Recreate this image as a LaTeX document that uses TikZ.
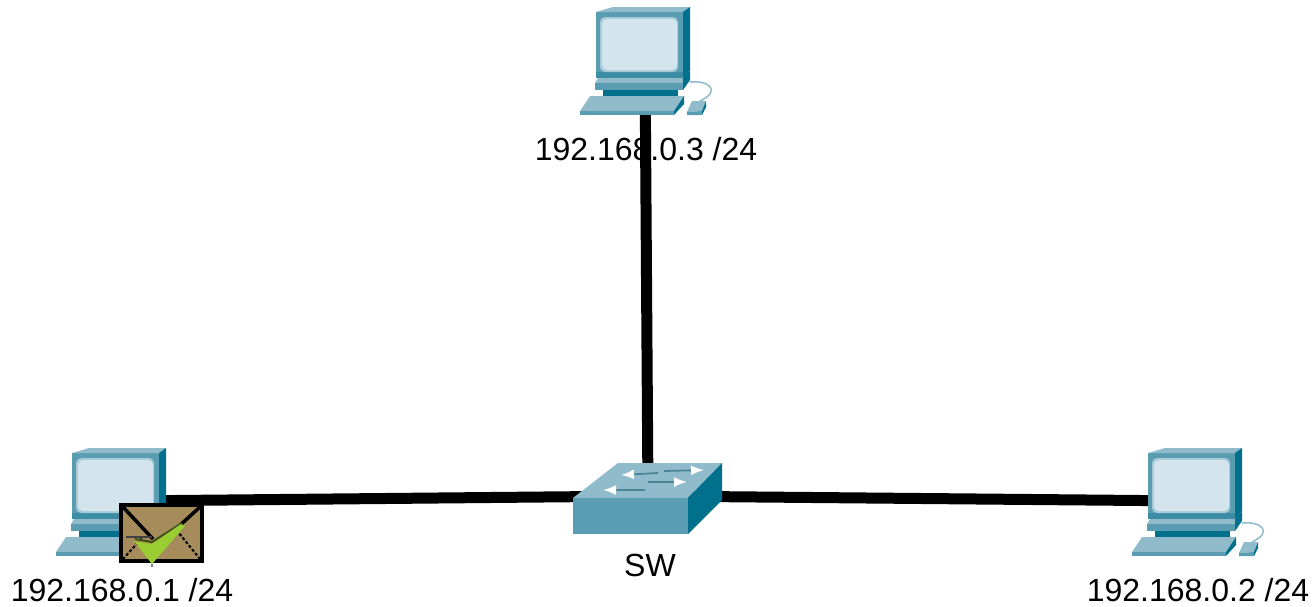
\documentclass[tikz,border=0pt]{standalone}
\usepackage{fontspec}
\setmainfont{Liberation Sans}
\usetikzlibrary{positioning, arrows.meta}
\definecolor{tealdark}{HTML}{00708C}
\definecolor{tealband}{HTML}{3D8CA6}
\definecolor{tealmid}{HTML}{5A9DB3}
\definecolor{teallight}{HTML}{8FBBCB}
\definecolor{bezelblue}{HTML}{A8CBD8}
\definecolor{screenblue}{HTML}{D3E4EC}
\definecolor{mailbrown}{HTML}{A68B5B}
\definecolor{tickgreen}{HTML}{9ACD32}
\tikzset{
    iplabel/.style = {inner sep = 0pt, font = \fontsize{32}{36}\selectfont},
    link/.style = {line width = 11pt, black},
    swarrow/.style = {-{Latex[length=13pt,width=10pt,color=white]}, tealmid!85!black, line width = 1.8pt},
    mail/.style = {draw = black, line width = 4.5pt, fill = mailbrown, minimum width = 81pt, minimum height = 56pt, inner sep = 0pt},
    pcicon/.pic = {
        % Monitor
        \fill[tealmid] (-49,-48) rectangle (38,18);
        \fill[tealband] (-49,12) rectangle (38,18);
        \fill[teallight] (-49,-48) -- (-32,-53) -- (45,-53) -- (38,-48) -- cycle;
        \fill[tealdark] (38,-48) -- (45,-53) -- (45,10) -- (38,18) -- cycle;
        \fill[bezelblue, rounded corners=5pt] (-45,-43) rectangle (33,12);
        \fill[screenblue, rounded corners=5pt] (-43,-41) rectangle (32,10);
        % Stand
        \fill[teallight] (-47,18) -- (38,18) -- (38,23) -- (-50,23) -- cycle;
        \fill[tealmid] (-50,23) rectangle (38,30);
        \fill[tealdark] (38,18) -- (45,10) -- (45,20) -- (38,30) -- cycle;
        \fill[tealdark] (-42,30) rectangle (33,36);
        % Keyboard
        \fill[teallight] (-55,36) -- (39,36) -- (29,51) -- (-65,51) -- cycle;
        \fill[tealmid] (-65,51) rectangle (29,55);
        \fill[tealdark] (39,36) -- (39,44) -- (29,55) -- (29,51) -- cycle;
        % Mouse
        \draw[teallight, line width=1.5pt] (45,22) .. controls (62,20) and (78,30) .. (55,41);
        \fill[teallight] (47,41) -- (61,41) -- (57,51) -- (42,52) -- cycle;
        \fill[tealmid] (42,52) -- (57,51) -- (57,55) -- (42,55) -- cycle;
        \fill[tealdark] (61,41) -- (61,47) -- (57,55) -- (57,51) -- cycle;
    },
    swicon/.pic = {
        \fill[teallight] (-30,-33) -- (74,-33) -- (40,2) -- (-75,2) -- cycle;
        \fill[tealmid] (-75,2) rectangle (40,38);
        \fill[tealdark] (40,2) -- (74,-33) -- (74,4) -- (40,38) -- cycle;
        % Arrows on top
        \draw[swarrow] (10,-23) -- (-27,-21);
        \draw[swarrow] (16,-25) -- (56,-26);
        \draw[swarrow] (-3,-6) -- (-45,-6);
        \draw[swarrow] (0,-14) -- (39,-14);
    }
}
\begin{document}
\begin{tikzpicture}[x=1pt, y=-1pt]
\useasboundingbox (0,0) rectangle (1314,606);

\coordinate (pc1) at (121,501);
\coordinate (pc2) at (1197,501);
\coordinate (pc3) at (645,60);
\coordinate (sw) at (648,496);

% Labels
\node[iplabel, below = 77pt of pc1, xshift=1pt] (ip1) {192.168.0.1 /24};
\node[iplabel, below = 77pt of pc2, xshift=1pt] (ip2) {192.168.0.2 /24};
\node[iplabel, below = 77pt of pc3, xshift=1pt] (ip3) {192.168.0.3 /24};
\node[iplabel, below = 58pt of sw, xshift=2pt] (swname) {SW};

% Links
\draw[link] (pc1) -- (sw);
\draw[link] (sw) -- (pc2);
\draw[link] (pc3) -- (sw);

% Devices
\pic at (pc1) {pcicon};
\pic at (pc2) {pcicon};
\pic at (pc3) {pcicon};
\pic at (sw) {swicon};

% Envelope
\node[mail] (msg) at (161.5,533) {};
\draw[black, line width=3.5pt] ([shift={(4,4)}]msg.north west) -- (153,539);
\draw[black, line width=3.5pt] ([shift={(-4,4)}]msg.north east) -- (178,527);
\draw[black, line width=2pt, dash pattern=on 3pt off 2pt] ([shift={(4,-4)}]msg.south west) -- (143,537);
\draw[black, line width=2pt, dash pattern=on 3pt off 2pt] ([shift={(-4,-4)}]msg.south east) -- (178,532);
\draw[black!75, line width=2.5pt] (126,537) -- (152,537);
\draw[black!60!tickgreen, line width=2pt] (135,539) -- (152,542) -- (182,523);
\fill[tickgreen] (134,541) -- (152,544) -- (181,524) -- (185,526) -- (152,564) -- cycle;
\draw[gray, line width=2pt] (152,564) -- (152,567);

\end{tikzpicture}
\end{document}
